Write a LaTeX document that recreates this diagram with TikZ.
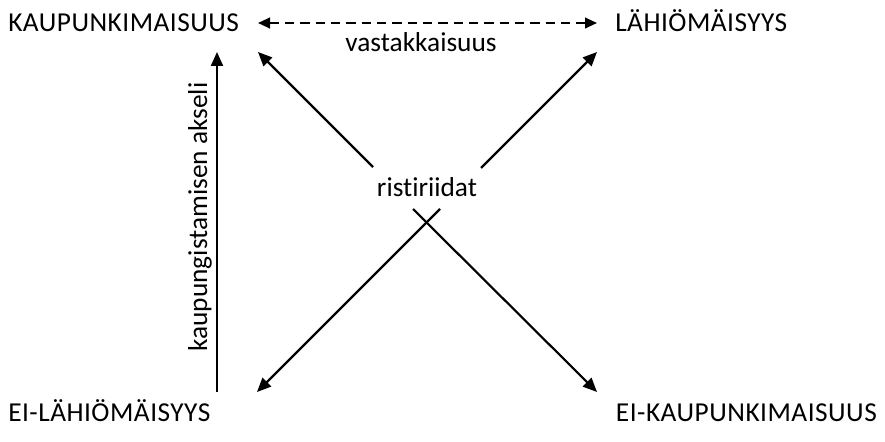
\documentclass[tikz,border=0pt]{standalone}
\usepackage{fontspec}
\setmainfont{Carlito}[Ligatures={NoCommon}]
\newfontfamily\capsfont{Carlito}[LetterSpace=1.8,Ligatures={NoCommon}]
\usetikzlibrary{arrows.meta}
\begin{document}
\begin{tikzpicture}[x=0.75pt,y=-0.75pt,
  lbl/.style={font=\fontsize{20.5}{24}\selectfont, inner sep=0pt, text=black},
  caps/.style={font=\capsfont\fontsize{20.5}{24}\selectfont, inner sep=0pt, text=black},
  arr/.style={-{Triangle[length=10.5pt,width=9pt]}, line width=1.6pt},
  darr/.style={{Triangle[length=9pt,width=8pt]}-{Triangle[length=9pt,width=8pt]}, line width=1.5pt, dash pattern=on 7pt off 4.5pt}]
\useasboundingbox (0,0) rectangle (885,442);
% labels
\node[caps, anchor=base west] (ku) at (8,32) {KAUPUNKIMAISUUS};
\node[caps, anchor=base west] (la) at (615,32) {LÄHIÖMÄISYYS};
\node[lbl, anchor=base] (va) at (421,52) {vastakkaisuus};
\node[lbl, anchor=base] (ri) at (427,196) {ristiriidat};
\node[caps, anchor=base west] (el) at (8,421) {EI-LÄHIÖMÄISYYS};
\node[caps, anchor=base east] (ek) at (877,421) {EI-KAUPUNKIMAISUUS};
\node[lbl, anchor=base, rotate=90] (ax) at (207,217) {kaupungistamisen akseli};
% coordinates
\coordinate (dl) at (258,23);
\coordinate (dr) at (597,23);
\coordinate (vb) at (217,392);
\coordinate (vt) at (217,52);
\coordinate (tl) at (258,52);
\coordinate (tr) at (597,52);
\coordinate (bl) at (257,392);
\coordinate (br) at (597,392);
\coordinate (s1) at (373,167);
\coordinate (s2) at (481,168);
\coordinate (s3) at (413,209);
\coordinate (s4) at (440,209);
% connectors
\draw[darr] (dl) -- (dr);
\draw[arr] (vb) -- (vt);
\draw[arr] (s1) -- (tl);
\draw[arr] (s2) -- (tr);
\draw[arr] (s3) -- (br);
\draw[arr] (s4) -- (bl);
\end{tikzpicture}
\end{document}
